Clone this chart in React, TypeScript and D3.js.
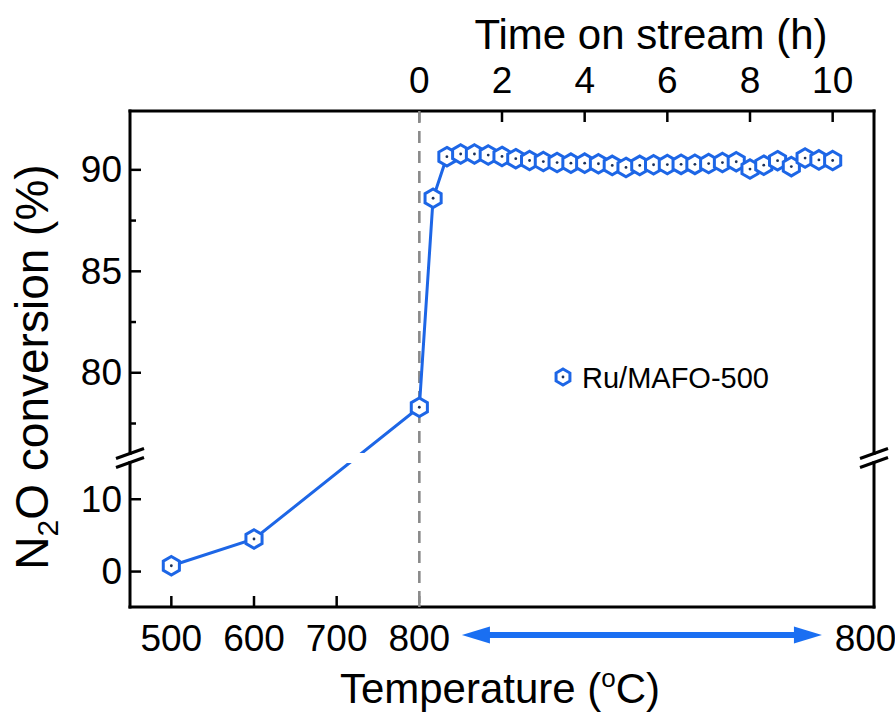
import React from 'react';
import * as d3 from 'd3';

// ---------- data ----------
const tempC = [500, 600, 800];
const tempConv = [0.8, 4.5, 78.3];
const timeH = [0.333, 0.667, 1, 1.333, 1.667, 2, 2.333, 2.667, 3, 3.333, 3.667, 4, 4.333, 4.667, 5, 5.333, 5.667, 6, 6.333, 6.667, 7, 7.333, 7.667, 8, 8.333, 8.667, 9, 9.333, 9.667, 10];
const timeConv = [88.6, 90.65, 90.78, 90.78, 90.73, 90.66, 90.55, 90.46, 90.41, 90.36, 90.33, 90.33, 90.3, 90.22, 90.12, 90.22, 90.25, 90.26, 90.27, 90.27, 90.31, 90.36, 90.4, 90.04, 90.23, 90.45, 90.16, 90.58, 90.49, 90.46];
const tempTicks = [500, 600, 700, 800];
const timeTicks = [0, 2, 4, 6, 8, 10];
const upperTicks = [80, 85, 90];
const upperMinor = [77.5, 82.5, 87.5];
const lowerTicks = [0, 10];
const seriesName = 'Ru/MAFO-500';

// ---------- layout ----------
const W = 895, H = 713;
const L = 130, R = 874, T = 111, B = 607;
const breakY = 458;
const blue = '#1d66e6';
const font = "'Liberation Sans', Arial, Helvetica, sans-serif";

const xTemp = d3.scaleLinear().domain([450, 1350]).range([L, R]);
const xTime = d3.scaleLinear().domain([-7, 11]).range([L, R]);
const yUp = d3.scaleLinear().domain([75.8, 92.9]).range([breakY, T]);
const yLow = d3.scaleLinear().domain([-4.9, 15.7]).range([B, breakY]);
const yOf = (v: number) => (v > 50 ? yUp(v) : yLow(v));

function hexPath(cx: number, cy: number, r: number) {
  const pts: [number, number][] = d3.range(6).map((i) => {
    const a = (Math.PI / 3) * i - Math.PI / 2;
    return [cx + r * Math.cos(a), cy + r * Math.sin(a)];
  });
  return d3.line()(pts) + 'Z';
}

export default function App() {
  const pts: [number, number][] = [
    ...tempC.map((t, i) => [xTemp(t), yOf(tempConv[i])] as [number, number]),
    ...timeH.map((h, i) => [xTime(h), yOf(timeConv[i])] as [number, number]),
  ];
  const lineD = d3.line()(pts) || '';
  const gap = 5;
  const majorLen = 11, minorLen = 6;
  const arrowY = 635;
  const ax0 = xTime(1.03), ax1 = xTime(9.74);
  const head = 28, headH = 8.5;

  const breakMark = (x: number, k: string) => (
    <g key={k}>
      {[-4.5, 4.5].map((o) => (
        <line key={o} x1={x - 14} y1={breakY + o + 5} x2={x + 14} y2={breakY + o - 5} stroke="#000" strokeWidth={3} />
      ))}
    </g>
  );

  return (
    <svg width={W} height={H} style={{ position: 'absolute', left: 0, top: 0, background: '#fff' }} fontFamily={font}>
      <defs>
        <clipPath id="gapclip">
          <rect x={0} y={0} width={W} height={breakY - gap} />
          <rect x={0} y={breakY + gap} width={W} height={H} />
        </clipPath>
      </defs>
      <rect x={0} y={0} width={W} height={H} fill="#fff" />

      {/* dashed separator */}
      <line x1={xTemp(800)} x2={xTemp(800)} y1={T} y2={B} stroke="#8a8a8a" strokeWidth={2.6} strokeDasharray="12,8" />

      {/* frame */}
      <g stroke="#000" strokeWidth={3} fill="none" strokeLinecap="square">
        <line x1={L} x2={R} y1={T} y2={T} />
        <line x1={L} x2={R} y1={B} y2={B} />
        <line x1={L} x2={L} y1={T} y2={breakY - 4.5} />
        <line x1={L} x2={L} y1={breakY + 4.5} y2={B} />
        <line x1={R} x2={R} y1={T} y2={breakY - 4.5} />
        <line x1={R} x2={R} y1={breakY + 4.5} y2={B} />
      </g>
      {breakMark(L, 'bl')}
      {breakMark(R, 'br')}

      {/* left ticks */}
      <g stroke="#000" strokeWidth={2.5}>
        {upperTicks.map((v) => (
          <line key={'u' + v} x1={L} x2={L + majorLen} y1={yUp(v)} y2={yUp(v)} />
        ))}
        {upperMinor.map((v) => (
          <line key={'m' + v} x1={L} x2={L + minorLen} y1={yUp(v)} y2={yUp(v)} />
        ))}
        {lowerTicks.map((v) => (
          <line key={'l' + v} x1={L} x2={L + majorLen} y1={yLow(v)} y2={yLow(v)} />
        ))}
        {tempTicks.map((t) => (
          <line key={'b' + t} x1={xTemp(t)} x2={xTemp(t)} y1={B} y2={B - majorLen} stroke={t === 800 ? '#8a8a8a' : '#000'} />
        ))}
        {timeTicks.map((h) => (
          <line key={'t' + h} x1={xTime(h)} x2={xTime(h)} y1={T} y2={T + majorLen} stroke={h === 0 ? '#8a8a8a' : '#000'} />
        ))}
      </g>

      {/* tick labels */}
      <g fontSize={37} fill="#000">
        {upperTicks.map((v) => (
          <text key={'ul' + v} x={L - 8} y={yUp(v)} textAnchor="end" dominantBaseline="central">{v}</text>
        ))}
        {lowerTicks.map((v) => (
          <text key={'ll' + v} x={L - 8} y={yLow(v)} textAnchor="end" dominantBaseline="central">{v}</text>
        ))}
        {tempTicks.map((t) => (
          <text key={'bl' + t} x={xTemp(t)} y={651} textAnchor="middle">{t}</text>
        ))}
        <text x={xTime(10.05)} y={651} textAnchor="start">800</text>
        {timeTicks.map((h) => (
          <text key={'tl' + h} x={xTime(h)} y={93} textAnchor="middle">{h}</text>
        ))}
      </g>

      {/* axis titles */}
      <text x={651} y={49} fontSize={42} textAnchor="middle">Time on stream (h)</text>
      <text x={500} y={703} fontSize={42} textAnchor="middle">
        Temperature (<tspan fontSize={26} dy={-16}>o</tspan><tspan dy={16}>C)</tspan>
      </text>
      <text transform={`translate(48, ${(T + B) / 2 + 8}) rotate(-90)`} fontSize={46} textAnchor="middle">
        N<tspan fontSize={30} dy={10}>2</tspan><tspan dy={-10}>O conversion (%)</tspan>
      </text>

      {/* arrow */}
      <line x1={ax0 + head - 2} x2={ax1 - head + 2} y1={arrowY} y2={arrowY} stroke="#1a6ff2" strokeWidth={6} />
      <path d={`M${ax0},${arrowY}L${ax0 + head},${arrowY - headH}L${ax0 + head},${arrowY + headH}Z`} fill="#1a6ff2" />
      <path d={`M${ax1},${arrowY}L${ax1 - head},${arrowY - headH}L${ax1 - head},${arrowY + headH}Z`} fill="#1a6ff2" />

      {/* data */}
      <path d={lineD} fill="none" stroke={blue} strokeWidth={3} clipPath="url(#gapclip)" />
      {pts.map(([x, y], i) => (
        <g key={'p' + i}>
          <path d={hexPath(x, y, 9.3)} fill="#fff" stroke={blue} strokeWidth={3} />
          <circle cx={x} cy={y} r={1.4} fill="#1a2f55" />
        </g>
      ))}

      {/* legend */}
      <path d={hexPath(563, 377, 8)} fill="#fff" stroke={blue} strokeWidth={3} />
      <circle cx={563} cy={377} r={1.4} fill="#1a2f55" />
      <text x={582} y={378} fontSize={29} dominantBaseline="central">{seriesName}</text>
    </svg>
  );
}
